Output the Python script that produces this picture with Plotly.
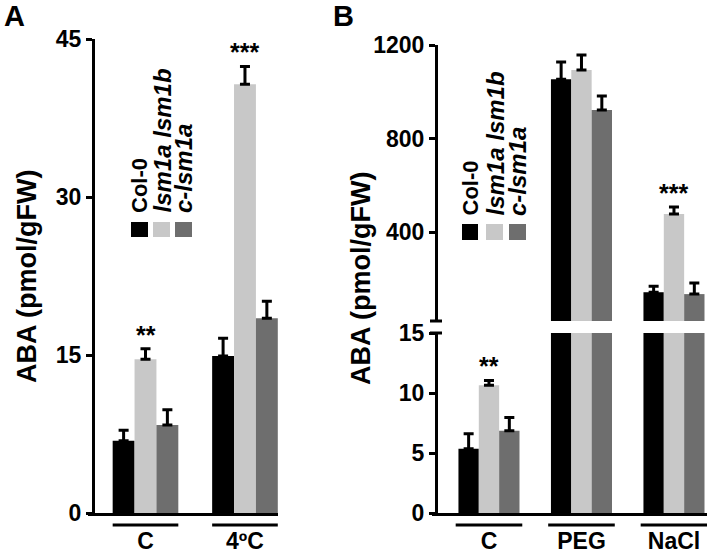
import plotly.graph_objects as go

W, H = 710, 555
FONT = "Liberation Sans, Arial, Helvetica, sans-serif"

# ---------------- data ----------------
series_names = ["Col-0", "lsm1a lsm1b", "c-lsm1a"]
series_colors = ["#000000", "#c8c8c8", "#6e6e6e"]

a_cats = ["C", "4ºC"]
a_col0 = [6.85, 14.9]
a_col0_err = [1.0, 1.7]
a_lsm = [14.6, 40.7]
a_lsm_err = [1.0, 1.7]
a_clsm = [8.35, 18.5]
a_clsm_err = [1.45, 1.6]
a_ticks = [0, 15, 30, 45]
a_stars = ["**", "***"]

b_cats = ["C", "PEG", "NaCl"]
b_col0 = [5.35, 1054, 143]
b_col0_err = [1.25, 73, 26]
b_lsm = [10.65, 1093, 477]
b_lsm_err = [0.4, 64, 30]
b_clsm = [6.85, 922, 135]
b_clsm_err = [1.1, 60, 47]
b_ticks_low = [0, 5, 10, 15]
b_ticks_high = [400, 800, 1200]
b_stars = {"C": "**", "NaCl": "***"}

# ---------------- helpers ----------------
def px_x(p):
    return p / W

def px_y(p):
    return 1 - p / H

fig = go.Figure()

def add_bars(cats, vals_list, errs_list, xaxis, yaxis):
    for name, col, vals, errs in zip(series_names, series_colors, vals_list, errs_list):
        fig.add_trace(go.Bar(
            x=cats, y=vals, name=name, marker=dict(color=col, line=dict(width=0)),
            error_y=dict(type="data", symmetric=False, array=errs,
                         arrayminus=[0] * len(errs), color="black",
                         thickness=3, width=5),
            xaxis=xaxis, yaxis=yaxis, showlegend=False, hoverinfo="skip"))

add_bars(a_cats, [a_col0, a_lsm, a_clsm], [a_col0_err, a_lsm_err, a_clsm_err], "x", "y")
add_bars(b_cats, [b_col0, b_lsm, b_clsm], [b_col0_err, b_lsm_err, b_clsm_err], "x2", "y2")
add_bars(b_cats, [b_col0, b_lsm, b_clsm], [b_col0_err, b_lsm_err, b_clsm_err], "x2", "y3")

tickfont = dict(family=FONT, size=23, color="black", weight="bold")
catfont = dict(family=FONT, size=23, color="black", weight="bold")

yax_common = dict(showgrid=False, zeroline=False, showline=True, linewidth=3,
                  linecolor="black", ticks="outside", ticklen=6, tickwidth=3,
                  tickcolor="black", tickfont=tickfont, fixedrange=True,
                  automargin=False)
xax_common = dict(showgrid=False, zeroline=False, showline=True, linewidth=3,
                  linecolor="black", ticks="", tickfont=catfont, type="category",
                  ticklabelstandoff=5, fixedrange=True, automargin=False)

fig.update_layout(
    width=W, height=H, autosize=False,
    margin=dict(l=0, r=0, t=0, b=0, pad=0, autoexpand=False),
    paper_bgcolor="white", plot_bgcolor="rgba(0,0,0,0)",
    barmode="group", bargroupgap=0,
    xaxis=dict(domain=[px_x(88), px_x(278)], range=[-0.578, 1.332], anchor="y", **xax_common),
    yaxis=dict(domain=[px_y(513), px_y(39)], range=[0, 45], tickvals=a_ticks,
               anchor="free", position=px_x(93), **yax_common),
    xaxis2=dict(domain=[px_x(432), px_x(707)], range=[-0.616, 2.357], anchor="y2", **xax_common),
    yaxis2=dict(domain=[px_y(513), px_y(333)], range=[0, 15], tickvals=b_ticks_low,
                anchor="free", position=px_x(436), **yax_common),
    yaxis3=dict(domain=[px_y(321), px_y(45)], range=[20, 1200], tickvals=b_ticks_high,
                anchor="free", position=px_x(436), **yax_common),
)
fig.update_layout(bargap=0.34)

shapes = []
anns = []

# group underlines (category index based)
def underline(xref, idx, half):
    shapes.append(dict(type="line", xref=xref, yref="paper", x0=idx - half, x1=idx + half,
                       y0=px_y(525), y1=px_y(525), line=dict(color="black", width=3)))

for i in range(len(a_cats)):
    underline("x", i, 0.33)
for i in range(len(b_cats)):
    underline("x2", i, 0.36)

# axis break caps on panel B
for yy in [321, 333]:
    shapes.append(dict(type="line", xref="paper", yref="paper", x0=px_x(430), x1=px_x(442),
                       y0=px_y(yy), y1=px_y(yy), line=dict(color="black", width=3)))

starfont = dict(family=FONT, size=25, color="black", weight="bold")

# significance stars
for i, (cat, s) in enumerate(zip(a_cats, a_stars)):
    anns.append(dict(x=cat, y=a_lsm[i] + a_lsm_err[i], xref="x", yref="y", text=s,
                     showarrow=False, yanchor="bottom", yshift=-2, font=starfont))
for i, cat in enumerate(b_cats):
    if cat in b_stars:
        yref = "y2" if b_lsm[i] < 15 else "y3"
        anns.append(dict(x=cat, y=b_lsm[i] + b_lsm_err[i], xref="x2", yref=yref,
                         text=b_stars[cat], showarrow=False, yanchor="bottom", yshift=-2,
                         font=starfont))

# legends (rotated text + squares)
def legend(xs, sq_top, sq_bot, text_bottom):
    labels = ["<b>Col-0</b>", "<b><i>lsm1a lsm1b</i></b>", "<b><i>c-lsm1a</i></b>"]
    sizes = [22, 24, 24]
    for (x0, x1), col, lab, sz in zip(xs, series_colors, labels, sizes):
        shapes.append(dict(type="rect", xref="paper", yref="paper",
                           x0=px_x(x0), x1=px_x(x1), y0=px_y(sq_bot), y1=px_y(sq_top),
                           fillcolor=col, line=dict(width=0)))
        anns.append(dict(x=px_x((x0 + x1) / 2), y=px_y(text_bottom), xref="paper", yref="paper",
                         text=lab, textangle=-90, showarrow=False, xanchor="center",
                         yanchor="bottom", font=dict(family=FONT, size=sz, color="black")))

legend([(131, 148), (153, 170), (175, 192)], 222, 237, 215)
legend([(462, 478), (486, 503), (509, 526)], 224, 240, 218)

# y-axis titles
for xc, yc in [(27, 277), (361, 279)]:
    anns.append(dict(x=px_x(xc), y=px_y(yc), xref="paper", yref="paper",
                     text="<b>ABA (pmol/gFW)</b>", textangle=-90, showarrow=False,
                     xanchor="center", yanchor="middle",
                     font=dict(family=FONT, size=27, color="black")))

# panel letters
for lab, xc in [("A", 14), ("B", 343)]:
    anns.append(dict(x=px_x(xc), y=px_y(16), xref="paper", yref="paper",
                     text="<b>%s</b>" % lab, showarrow=False, xanchor="center",
                     yanchor="middle", font=dict(family=FONT, size=29, color="black")))

fig.update_layout(shapes=shapes, annotations=anns)

fig.write_html(
    "out.html",
    config={"displayModeBar": False},
    post_script="document.body.style.margin='0';document.body.style.overflow='hidden';",
)
